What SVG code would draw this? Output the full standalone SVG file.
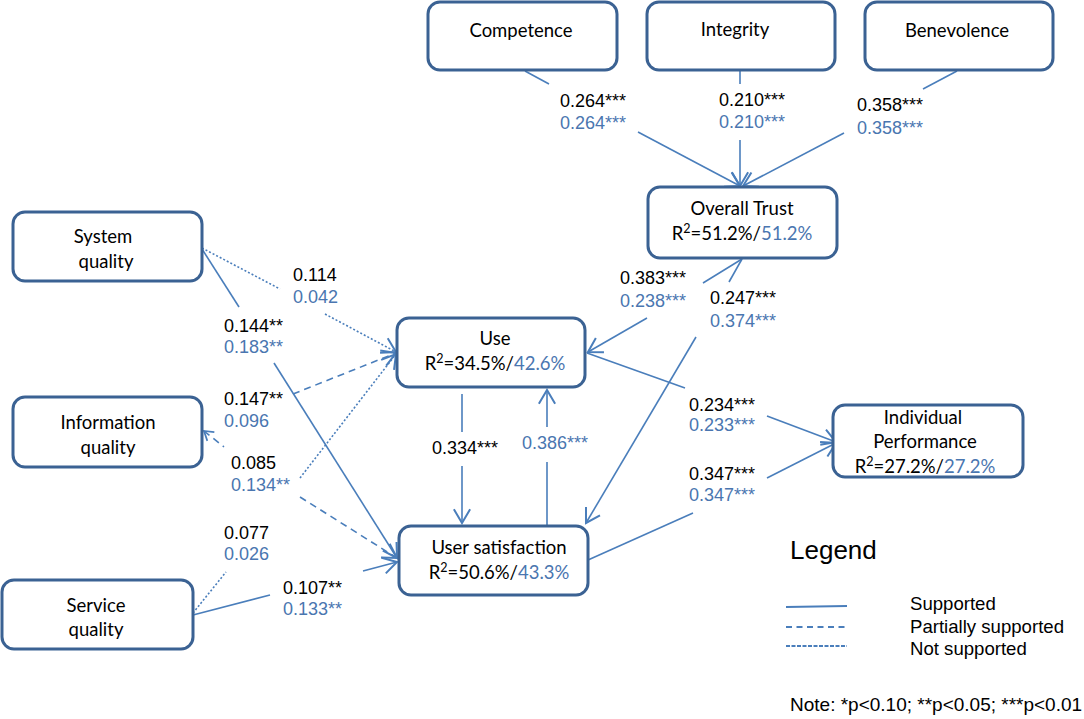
<svg xmlns="http://www.w3.org/2000/svg" width="1084" height="719" viewBox="0 0 1084 719">
<style>
.box{fill:#fff;stroke:#3B6293;stroke-width:3}
.nt{font-family:Lato,"Open Sans",sans-serif;font-size:18.5px;fill:#000;text-anchor:middle}
.lb{font-family:"Liberation Sans",Arial,sans-serif;font-size:18px;fill:#000}
.bl{fill:#4A76B0}
.c{fill:none;stroke:#4A7EBB;stroke-width:1.6}
.dash{stroke-dasharray:7 5}
.dot{stroke-dasharray:2 2}
.lg{font-family:"Liberation Sans",Arial,sans-serif;font-size:18.6px;fill:#000}
.lgt{font-family:"Liberation Sans",Arial,sans-serif;font-size:26px;fill:#000}
</style>
<defs>
<marker id="a" markerUnits="userSpaceOnUse" markerWidth="20" markerHeight="20" refX="0" refY="0" viewBox="-12 -8 14 16" orient="auto" overflow="visible">
<path d="M-11,-6.5 L0,0 L-11,6.5" fill="none" stroke="#4A7EBB" stroke-width="1.6"/>
</marker>
<marker id="as" markerUnits="userSpaceOnUse" markerWidth="20" markerHeight="20" refX="0" refY="0" viewBox="-12 -8 14 16" orient="auto-start-reverse" overflow="visible">
<path d="M-7,-4.5 L0,0 L-7,4.5" fill="none" stroke="#4A7EBB" stroke-width="1.4"/>
</marker>
</defs>
<rect width="1084" height="719" fill="#fff"/>

<g id="connectors">
<line class="c" x1="525" y1="71" x2="549" y2="84"/>
<line class="c" x1="638" y1="132" x2="740" y2="186" marker-end="url(#a)"/>
<line class="c" x1="740" y1="71" x2="740" y2="84"/>
<line class="c" x1="740" y1="140" x2="740" y2="186" marker-end="url(#a)"/>
<line class="c" x1="957" y1="71" x2="923" y2="89"/>
<line class="c" x1="844" y1="133" x2="743" y2="186" marker-end="url(#a)"/>
<line class="c dot" x1="202" y1="248" x2="280" y2="289"/>
<line class="c dot" x1="325" y1="314" x2="396" y2="352" marker-end="url(#a)"/>
<line class="c" x1="202" y1="249" x2="239" y2="307"/>
<line class="c" x1="274" y1="363" x2="397" y2="558" marker-end="url(#a)"/>
<line class="c dash" x1="293" y1="394" x2="396" y2="353" marker-end="url(#a)"/>
<line class="c dash" x1="204" y1="431" x2="224" y2="447" marker-start="url(#as)"/>
<line class="c dash" x1="300" y1="497" x2="397" y2="558" marker-end="url(#a)"/>
<line class="c dot" x1="193" y1="613" x2="226" y2="572"/>
<line class="c dot" x1="300" y1="478" x2="396" y2="354" marker-end="url(#a)"/>
<line class="c" x1="193" y1="615" x2="270" y2="595"/>
<line class="c" x1="363" y1="571" x2="397" y2="562" marker-end="url(#a)"/>
<line class="c" x1="742" y1="259" x2="703" y2="283"/>
<line class="c" x1="647" y1="318" x2="588" y2="352" marker-end="url(#a)"/>
<line class="c" x1="742" y1="259" x2="729" y2="282"/>
<line class="c" x1="696" y1="337" x2="586" y2="523" marker-end="url(#a)"/>
<line class="c" x1="462" y1="394" x2="462" y2="432"/>
<line class="c" x1="462" y1="466" x2="462" y2="523" marker-end="url(#a)"/>
<line class="c" x1="547" y1="525" x2="547" y2="462"/>
<line class="c" x1="547" y1="427" x2="547" y2="390" marker-end="url(#a)"/>
<line class="c" x1="587" y1="353" x2="685" y2="388"/>
<line class="c" x1="767" y1="416" x2="836" y2="442" marker-end="url(#a)"/>
<line class="c" x1="588" y1="560" x2="693" y2="513"/>
<line class="c" x1="767" y1="478" x2="836" y2="443" marker-end="url(#a)"/>
</g>

<g id="competence"><rect class="box" x="428" y="2" width="189" height="68" rx="12"/><text class="nt" x="521" y="37">Competence</text></g>
<g id="integrity"><rect class="box" x="647" y="2" width="188" height="68" rx="12"/><text class="nt" x="735" y="36">Integrity</text></g>
<g id="benevolence"><rect class="box" x="865" y="2" width="188" height="68" rx="12"/><text class="nt" x="957" y="37">Benevolence</text></g>
<g id="overall-trust"><rect class="box" x="648" y="187" width="189" height="71" rx="12"/><text class="nt" x="742" y="215">Overall Trust</text><text class="nt" x="742" y="240">R<tspan font-size="12.5" dy="-7">2</tspan><tspan dy="7">=51.2%/</tspan><tspan class="bl">51.2%</tspan></text></g>
<g id="system-quality"><rect class="box" x="13" y="212" width="189" height="69" rx="12"/><text class="nt" x="103" y="243">System</text><text class="nt" x="106" y="268">quality</text></g>
<g id="use"><rect class="box" x="397" y="318" width="188" height="69" rx="12"/><text class="nt" x="495" y="345">Use</text><text class="nt" x="495" y="370">R<tspan font-size="12.5" dy="-7">2</tspan><tspan dy="7">=34.5%/</tspan><tspan class="bl">42.6%</tspan></text></g>
<g id="information-quality"><rect class="box" x="13" y="397" width="189" height="70" rx="12"/><text class="nt" x="108" y="429">Information</text><text class="nt" x="108" y="454">quality</text></g>
<g id="individual-performance"><rect class="box" x="833" y="405" width="190" height="72" rx="12"/><text class="nt" x="923" y="424">Individual</text><text class="nt" x="925" y="448">Performance</text><text class="nt" x="925" y="473">R<tspan font-size="12.5" dy="-7">2</tspan><tspan dy="7">=27.2%/</tspan><tspan class="bl">27.2%</tspan></text></g>
<g id="user-satisfaction"><rect class="box" x="399" y="526" width="189" height="69" rx="12"/><text class="nt" x="499" y="554">User satisfaction</text><text class="nt" x="499" y="579">R<tspan font-size="12.5" dy="-7">2</tspan><tspan dy="7">=50.6%/</tspan><tspan class="bl">43.3%</tspan></text></g>
<g id="service-quality"><rect class="box" x="2" y="580" width="191" height="69" rx="12"/><text class="nt" x="96" y="612">Service</text><text class="nt" x="96" y="636">quality</text></g>

<g id="labels">
<text class="lb" x="560" y="107">0.264***</text><text class="lb bl" x="560" y="129">0.264***</text>
<text class="lb" x="719" y="106">0.210***</text><text class="lb bl" x="719" y="128">0.210***</text>
<text class="lb" x="857" y="111">0.358***</text><text class="lb bl" x="857" y="134">0.358***</text>
<text class="lb" x="293" y="281">0.114</text><text class="lb bl" x="293" y="303">0.042</text>
<text class="lb" x="224" y="332">0.144**</text><text class="lb bl" x="224" y="353">0.183**</text>
<text class="lb" x="620" y="284">0.383***</text><text class="lb bl" x="620" y="307">0.238***</text>
<text class="lb" x="710" y="304">0.247***</text><text class="lb bl" x="710" y="327">0.374***</text>
<text class="lb" x="224" y="405">0.147**</text><text class="lb bl" x="224" y="427">0.096</text>
<text class="lb" x="231" y="469">0.085</text><text class="lb bl" x="231" y="491">0.134**</text>
<text class="lb" x="432" y="454">0.334***</text>
<text class="lb bl" x="522" y="449">0.386***</text>
<text class="lb" x="689" y="411">0.234***</text><text class="lb bl" x="689" y="431">0.233***</text>
<text class="lb" x="689" y="480">0.347***</text><text class="lb bl" x="689" y="501">0.347***</text>
<text class="lb" x="224" y="539">0.077</text><text class="lb bl" x="224" y="560">0.026</text>
<text class="lb" x="283" y="594">0.107**</text><text class="lb bl" x="283" y="615">0.133**</text>
</g>

<g id="legend">
<text class="lgt" x="790" y="559">Legend</text>
<line x1="786" y1="607" x2="847" y2="606" stroke="#4A7EBB" stroke-width="2"/>
<line x1="786" y1="627" x2="847" y2="627" stroke="#4A7EBB" stroke-width="2" stroke-dasharray="6 4.5"/>
<line x1="786" y1="646" x2="847" y2="646" stroke="#4A7EBB" stroke-width="2" stroke-dasharray="4 1.5"/>
<text class="lg" x="910" y="610">Supported</text>
<text class="lg" x="910" y="633">Partially supported</text>
<text class="lg" x="910" y="655">Not supported</text>
<text class="lg" x="790" y="711" style="font-size:19px">Note: *p&lt;0.10; **p&lt;0.05; ***p&lt;0.01</text>
</g>
</svg>
